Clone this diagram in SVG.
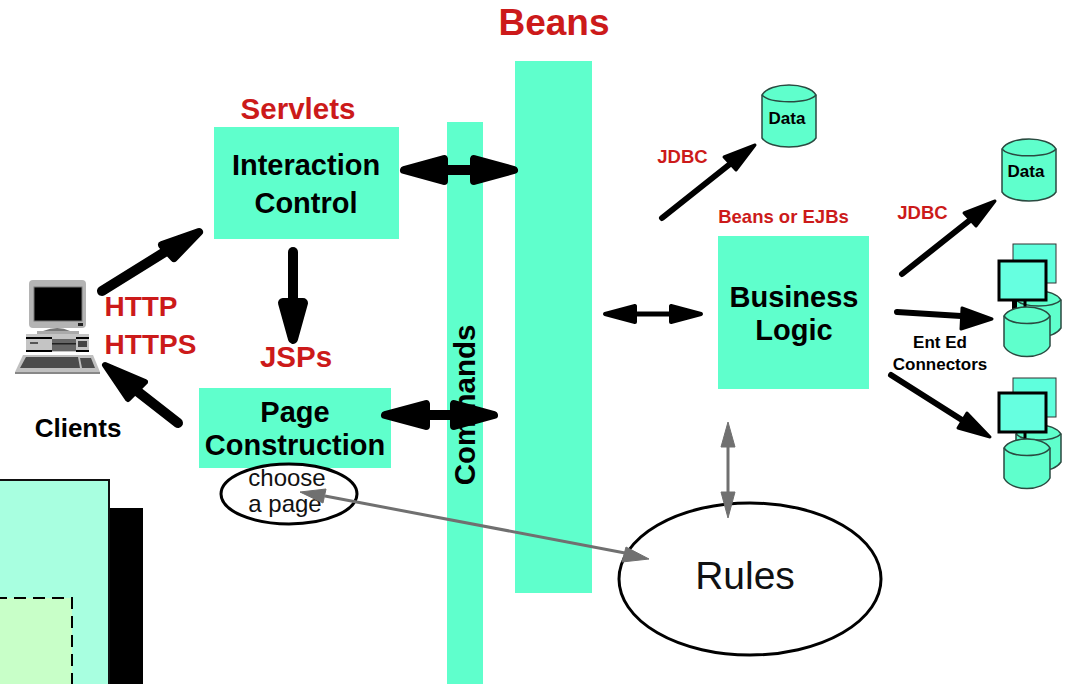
<svg xmlns="http://www.w3.org/2000/svg" width="1065" height="684" viewBox="0 0 1065 684">
<style>
text{font-family:"Liberation Sans",Arial,Helvetica,sans-serif;text-anchor:middle}
.box{fill:#5fffcc}
.t{font-weight:bold;font-size:29px;fill:#000}
.r{font-weight:bold;fill:#cc1a1a}
.k{font-weight:bold;fill:#000}
.a{stroke:#000;fill:none;stroke-linecap:round}
.h{fill:#000;stroke:#000;stroke-linejoin:round}
.g{stroke:#707070;stroke-width:3;fill:none}
.gh{fill:#707070;stroke:#707070;stroke-linejoin:round;stroke-width:1}
.cyl{fill:#5fffcc;stroke:#2a4a40;stroke-width:1.5}
.mon{fill:#66ffe0;stroke:#000;stroke-width:3}
.mon2{fill:#5fffdd;stroke:#333;stroke-width:1}
</style>
<defs>
<g id="cylD"><path class="cyl" d="M0,10 C8,-3.3 46,-3.3 54,10 V53 C46,65 8,65 0,53 Z"/><path class="cyl" d="M0,10 C8,19 46,19 54,10" style="fill:none"/></g>
<g id="stackBase">
<rect class="mon2" x="15" y="0" width="43" height="39"/>
<path class="cyl" d="M18,56 C26,44 55,44 63,56 V84 C55,96 26,96 18,84 Z"/>
<path class="cyl" d="M18,56 C26,64 55,64 63,56" style="fill:none"/>
</g>
<g id="stackFront">
<rect x="25.500" y="55" width="3" height="12" fill="#000"/>
<path class="cyl" d="M6,72 C13,60 45,60 52,72 V102 C45,116 13,116 6,102 Z"/>
<path class="cyl" d="M6,72 C13,82 45,82 52,72" style="fill:none"/>
<rect class="mon" x="1" y="17" width="47" height="39"/>
</g>
</defs>

<g id="beans-bar"><rect class="box" x="515" y="61" width="77" height="532"/></g>
<g id="commands-bar"><rect class="box" x="447" y="122" width="36" height="562"/>
<text class="k" font-size="29.500" transform="translate(475,405) rotate(-90)">Commands</text></g>
<g id="beans-title"><text class="r" x="554" y="35" font-size="37">Beans</text></g>

<g id="interaction"><text class="r" x="298" y="119" font-size="29.500">Servlets</text><rect class="box" x="214" y="127" width="185" height="112"/>
<text class="t" x="306" y="175">Interaction</text><text class="t" x="306" y="213">Control</text></g>

<g id="page"><text class="r" x="296" y="367" font-size="29.500">JSPs</text><rect class="box" x="199" y="388" width="192" height="80"/>
<text class="t" x="295" y="422">Page</text><text class="t" x="295" y="455">Construction</text></g>

<g id="logic"><text class="r" x="783.500" y="223" font-size="18.500">Beans or EJBs</text><rect class="box" x="718" y="236" width="151" height="153"/>
<text class="t" x="794" y="307">Business</text><text class="t" x="794" y="340">Logic</text></g>

<g id="choose"><ellipse cx="289" cy="494" rx="68" ry="30" fill="#fff" stroke="#000" stroke-width="3"/>
<text x="287" y="486" font-size="24" fill="#111">choose</text><text x="285" y="512" font-size="24" fill="#111">a page</text></g>

<g id="rules"><ellipse cx="750" cy="579" rx="131" ry="76" fill="#fff" stroke="#000" stroke-width="3"/>
<text x="745" y="589" font-size="39" fill="#111">Rules</text></g>

<g id="client">
<path d="M33,280 H82 Q86,280 86,284 V324 Q86,328 82,328 H33 Q29,328 29,324 V284 Q29,280 33,280Z" fill="#b4b4b4"/>
<rect x="34" y="287" width="48" height="34" fill="#000" stroke="#777"/>
<rect x="78" y="323" width="5" height="3" fill="#222"/>
<path d="M43,331 Q58,325 70,331Z" fill="#777"/><rect x="37" y="331" width="42" height="4" fill="#aaa"/>
<rect x="26" y="334" width="63" height="18" fill="#c4c4c4"/>
<rect x="26" y="337" width="26" height="2" fill="#000"/><rect x="76" y="337" width="13" height="2" fill="#000"/>
<rect x="26" y="350" width="26" height="2" fill="#000"/><rect x="76" y="350" width="13" height="2" fill="#000"/>
<rect x="52" y="339" width="24" height="12" fill="#666"/><rect x="52" y="343" width="24" height="1.500" fill="#222"/><rect x="78" y="341" width="9" height="6" fill="#444"/><rect x="30" y="342" width="8" height="2" fill="#555"/>
<path d="M23,355 H93 L100,372 H15 Z" fill="#c0c0c0"/><path d="M26,357 H78 L80,368 H20 Z M80,358 H91 L95,368 H82Z" fill="#4c4c4c"/>
<rect x="15" y="372" width="85" height="2" fill="#888"/>
<text class="k" x="78" y="437" font-size="26">Clients</text>
<text class="r" x="141" y="316" font-size="28">HTTP</text><text class="r" x="150.500" y="354" font-size="28">HTTPS</text>
</g>

<g id="db1"><use href="#cylD" x="762" y="85"/><text class="k" x="787" y="124" font-size="17">Data</text></g>
<g id="db2"><use href="#cylD" x="1002" y="139"/><text class="k" x="1026" y="177" font-size="17">Data</text></g>
<g id="stack1"><use href="#stackBase" x="998" y="244"/><rect x="1012" y="298" width="5" height="14" fill="#000"/><use href="#stackFront" x="998" y="244"/></g>
<g id="stack2"><use href="#stackBase" x="998" y="378"/><use href="#stackFront" x="998" y="376"/></g>
<g id="labels"><text class="r" x="682.500" y="163" font-size="18.500">JDBC</text><text class="r" x="922.500" y="219" font-size="18.500">JDBC</text>
<text class="k" x="940" y="348" font-size="17">Ent Ed</text><text class="k" x="940" y="370" font-size="17">Connectors</text></g>

<g id="old-window"><rect x="-5" y="480" width="114" height="210" fill="#a8ffe0" stroke="#111" stroke-width="2"/>
<rect x="110" y="508" width="33" height="176" fill="#000"/>
<rect x="-5" y="598" width="77" height="90" fill="#c8ffc8" stroke="#000" stroke-width="2" stroke-dasharray="12 7"/></g>

<g id="connectors">
<path class="a" stroke-width="10" d="M102,291L168,250"/><path class="h" stroke-width="8" d="M199,232L162,245L174,258Z"/>
<path class="a" stroke-width="10" d="M178,423L137,391"/><path class="h" stroke-width="6" d="M105,365L145,382L128,399Z"/>
<path class="a" stroke-width="10" d="M293,252V302"/><path class="h" stroke-width="10" d="M293,339L283,303H303Z"/>
<path class="a" stroke-width="10" d="M446,170H472"/><path class="h" stroke-width="8" d="M404,170L444,159V181Z"/><path class="h" stroke-width="8" d="M514,170L474,159V181Z"/>
<path class="a" stroke-width="10" d="M428,415H452"/><path class="h" stroke-width="8" d="M385,415L426,404V426Z"/><path class="h" stroke-width="8" d="M494,415L454,404V426Z"/>
<path class="a" stroke-width="5" d="M635,314H671"/><path class="h" stroke-width="4" d="M605,314L635,306V322Z"/><path class="h" stroke-width="4" d="M701,314L671,306V322Z"/>
<path class="a" stroke-width="6" d="M662,218L730,164"/><path class="h" stroke-width="3" d="M755,145L736,170L724,157Z"/>
<path class="a" stroke-width="6" d="M902,274L970,220"/><path class="h" stroke-width="3" d="M995,201L976,226L964,213Z"/>
<path class="a" stroke-width="6" d="M897,312L961,316"/><path class="h" stroke-width="3" d="M992,319L961,329L962,308Z"/>
<path class="a" stroke-width="6" d="M891,375L962,420"/><path class="h" stroke-width="3" d="M990,437L958,428L967,413Z"/>
<path class="g" d="M325,496L625,553"/><path class="gh" d="M300,492L326,489L323,503Z"/><path class="gh" d="M649,559L626,547L622,562Z"/>
<path class="g" d="M728,447V493"/><path class="gh" d="M728,422L735,447H721Z"/><path class="gh" d="M728,518L735,492H721Z"/>
</g>
</svg>
